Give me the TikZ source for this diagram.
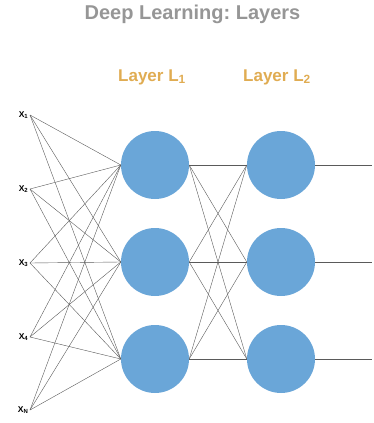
\documentclass[tikz,border=0pt]{standalone}
\usepackage{fontspec}
\setmainfont{Liberation Sans}
\usepackage{tikz}
\usetikzlibrary{positioning, calc}
\definecolor{neuronblue}{RGB}{106, 166, 216}
\definecolor{titlegray}{RGB}{150, 150, 150}
\definecolor{layergold}{RGB}{224, 172, 82}
\definecolor{edgegray}{RGB}{90, 90, 90}
\frenchspacing

\begin{document}
\begin{tikzpicture}[x=1pt, y=-1pt,
    neuron/.style={circle, fill=neuronblue, minimum size=68pt, inner sep=0pt},
    inputlabel/.style={anchor=east, inner sep=1.5pt, font=\bfseries\fontsize{8.5}{10}\selectfont},
    layerlabel/.style={text=layergold, font=\bfseries\fontsize{17}{20}\selectfont},
    edge/.style={draw=edgegray, line width=0.4pt}]
\useasboundingbox (0,0) rectangle (373,423);

% Title
\node[font=\bfseries\fontsize{20}{24}\selectfont, text=titlegray] (title) at (192.5,14) {Deep Learning: Layers};

% Inputs
\foreach \i/\y/\s in {1/115/1, 2/189/2, 3/263/3, 4/337/4, 5/410/N} {
    \node[inputlabel] (x\i) at (30,\y) {X\textsubscript{\s}};
}

% Two layers of neurons
\foreach \j/\y in {1/165, 2/262, 3/359} {
    \node[neuron] (h1\j) at (155,\y) {};
    \node[neuron] (h2\j) at (281,\y) {};
    \coordinate (out\j) at (372,\y);
}
\node[layerlabel] (lab1) at (152,77) {Layer L\textsubscript{1}};
\node[layerlabel] (lab2) at (277,77) {Layer L\textsubscript{2}};

% Connections
\foreach \i in {1,...,5} {
    \foreach \j in {1,2,3} {
        \draw[edge] (x\i.east) -- (h1\j.west);
    }
}
\foreach \i in {1,2,3} {
    \foreach \j in {1,2,3} {
        \draw[edge] (h1\i.east) -- (h2\j.west);
    }
    \draw[edge] (h2\i.east) -- (out\i);
}
\end{tikzpicture}
\end{document}
